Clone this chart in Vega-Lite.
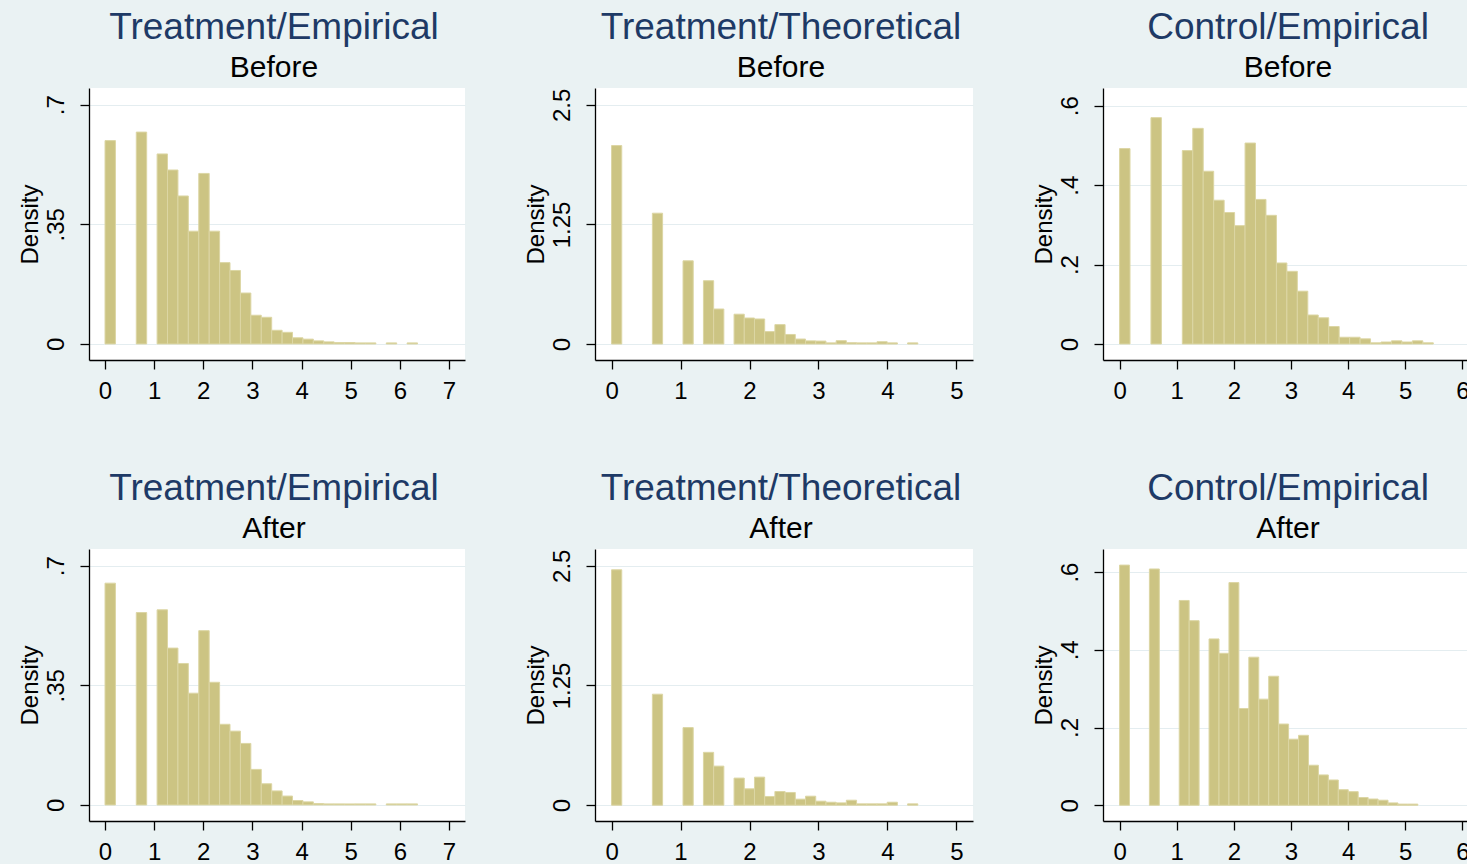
{
  "$schema": "https://vega.github.io/schema/vega-lite/v6.json",
  "usermeta": {"embedOptions": {"actions": false}},
  "background": "#eaf2f3",
  "padding": {"left": 18, "top": 9, "right": 0, "bottom": 0},
  "config": {
    "font": "Liberation Sans",
    "view": {"fill": "white", "stroke": null},
    "axis": {
      "domainColor": "#000000", "domainWidth": 1.3,
      "tickColor": "#000000", "tickSize": 9, "tickWidth": 1.3,
      "labelFont": "Liberation Sans", "labelFontSize": 24, "labelColor": "#000000",
      "labelOverlap": false, "labelFlush": false,
      "titleFont": "Liberation Sans", "titleFontSize": 24, "titleFontWeight": "normal", "titleColor": "#000000",
      "gridColor": "#e4edf0", "gridWidth": 1.2
    },
    "axisX": {"grid": false, "labelPadding": 10},
    "axisY": {"grid": true, "labelAngle": -90, "labelAlign": "center", "labelBaseline": "bottom", "labelPadding": 12, "titlePadding": 2,
      "labelExpr": "datum.value > 0 && datum.value < 1 ? substring(toString(datum.value), 1) : toString(datum.value)"},
    "title": {
      "font": "Liberation Sans", "fontSize": 37, "fontWeight": "normal", "color": "#1e3a66",
      "subtitleFont": "Liberation Sans", "subtitleFontSize": 30, "subtitleColor": "#000000",
      "subtitlePadding": 6, "anchor": "middle", "frame": "group", "offset": 4, "dx": -3
    }
  },
  "datasets": {
    "bars": [
      {"p":"TE_B","x0":0,"x1":0.212,"d":0.595},
      {"p":"TE_B","x0":0.636,"x1":0.848,"d":0.620},
      {"p":"TE_B","x0":1.06,"x1":1.272,"d":0.556},
      {"p":"TE_B","x0":1.272,"x1":1.484,"d":0.509},
      {"p":"TE_B","x0":1.484,"x1":1.696,"d":0.433},
      {"p":"TE_B","x0":1.696,"x1":1.908,"d":0.330},
      {"p":"TE_B","x0":1.908,"x1":2.12,"d":0.499},
      {"p":"TE_B","x0":2.12,"x1":2.332,"d":0.330},
      {"p":"TE_B","x0":2.332,"x1":2.544,"d":0.238},
      {"p":"TE_B","x0":2.544,"x1":2.756,"d":0.215},
      {"p":"TE_B","x0":2.756,"x1":2.968,"d":0.149},
      {"p":"TE_B","x0":2.968,"x1":3.18,"d":0.084},
      {"p":"TE_B","x0":3.18,"x1":3.392,"d":0.078},
      {"p":"TE_B","x0":3.392,"x1":3.604,"d":0.040},
      {"p":"TE_B","x0":3.604,"x1":3.816,"d":0.034},
      {"p":"TE_B","x0":3.816,"x1":4.028,"d":0.018},
      {"p":"TE_B","x0":4.028,"x1":4.24,"d":0.014},
      {"p":"TE_B","x0":4.24,"x1":4.452,"d":0.009},
      {"p":"TE_B","x0":4.452,"x1":4.664,"d":0.006},
      {"p":"TE_B","x0":4.664,"x1":4.876,"d":0.004},
      {"p":"TE_B","x0":4.876,"x1":5.088,"d":0.004},
      {"p":"TE_B","x0":5.088,"x1":5.3,"d":0.003},
      {"p":"TE_B","x0":5.3,"x1":5.512,"d":0.003},
      {"p":"TE_B","x0":5.724,"x1":5.936,"d":0.003},
      {"p":"TE_B","x0":6.148,"x1":6.36,"d":0.003},

      {"p":"TT_B","x0":0,"x1":0.148,"d":2.075},
      {"p":"TT_B","x0":0.592,"x1":0.74,"d":1.368},
      {"p":"TT_B","x0":1.036,"x1":1.184,"d":0.870},
      {"p":"TT_B","x0":1.332,"x1":1.48,"d":0.662},
      {"p":"TT_B","x0":1.48,"x1":1.628,"d":0.366},
      {"p":"TT_B","x0":1.776,"x1":1.924,"d":0.312},
      {"p":"TT_B","x0":1.924,"x1":2.072,"d":0.272},
      {"p":"TT_B","x0":2.072,"x1":2.22,"d":0.262},
      {"p":"TT_B","x0":2.22,"x1":2.368,"d":0.130},
      {"p":"TT_B","x0":2.368,"x1":2.516,"d":0.203},
      {"p":"TT_B","x0":2.516,"x1":2.664,"d":0.100},
      {"p":"TT_B","x0":2.664,"x1":2.812,"d":0.052},
      {"p":"TT_B","x0":2.812,"x1":2.96,"d":0.033},
      {"p":"TT_B","x0":2.96,"x1":3.108,"d":0.031},
      {"p":"TT_B","x0":3.108,"x1":3.256,"d":0.012},
      {"p":"TT_B","x0":3.256,"x1":3.404,"d":0.035},
      {"p":"TT_B","x0":3.404,"x1":3.552,"d":0.014},
      {"p":"TT_B","x0":3.552,"x1":3.7,"d":0.012},
      {"p":"TT_B","x0":3.7,"x1":3.848,"d":0.012},
      {"p":"TT_B","x0":3.848,"x1":3.996,"d":0.024},
      {"p":"TT_B","x0":3.996,"x1":4.144,"d":0.012},
      {"p":"TT_B","x0":4.292,"x1":4.44,"d":0.012},

      {"p":"CE_B","x0":0,"x1":0.183,"d":0.492},
      {"p":"CE_B","x0":0.549,"x1":0.732,"d":0.570},
      {"p":"CE_B","x0":1.098,"x1":1.281,"d":0.487},
      {"p":"CE_B","x0":1.281,"x1":1.464,"d":0.543},
      {"p":"CE_B","x0":1.464,"x1":1.647,"d":0.435},
      {"p":"CE_B","x0":1.647,"x1":1.83,"d":0.362},
      {"p":"CE_B","x0":1.83,"x1":2.013,"d":0.331},
      {"p":"CE_B","x0":2.013,"x1":2.196,"d":0.298},
      {"p":"CE_B","x0":2.196,"x1":2.379,"d":0.506},
      {"p":"CE_B","x0":2.379,"x1":2.562,"d":0.364},
      {"p":"CE_B","x0":2.562,"x1":2.745,"d":0.324},
      {"p":"CE_B","x0":2.745,"x1":2.928,"d":0.204},
      {"p":"CE_B","x0":2.928,"x1":3.111,"d":0.183},
      {"p":"CE_B","x0":3.111,"x1":3.294,"d":0.133},
      {"p":"CE_B","x0":3.294,"x1":3.477,"d":0.073},
      {"p":"CE_B","x0":3.477,"x1":3.66,"d":0.066},
      {"p":"CE_B","x0":3.66,"x1":3.843,"d":0.044},
      {"p":"CE_B","x0":3.843,"x1":4.026,"d":0.017},
      {"p":"CE_B","x0":4.026,"x1":4.209,"d":0.017},
      {"p":"CE_B","x0":4.209,"x1":4.392,"d":0.013},
      {"p":"CE_B","x0":4.392,"x1":4.575,"d":0.003},
      {"p":"CE_B","x0":4.575,"x1":4.758,"d":0.005},
      {"p":"CE_B","x0":4.758,"x1":4.941,"d":0.008},
      {"p":"CE_B","x0":4.941,"x1":5.124,"d":0.005},
      {"p":"CE_B","x0":5.124,"x1":5.307,"d":0.008},
      {"p":"CE_B","x0":5.307,"x1":5.49,"d":0.003},

      {"p":"TE_A","x0":0,"x1":0.212,"d":0.649},
      {"p":"TE_A","x0":0.636,"x1":0.848,"d":0.563},
      {"p":"TE_A","x0":1.06,"x1":1.272,"d":0.571},
      {"p":"TE_A","x0":1.272,"x1":1.484,"d":0.459},
      {"p":"TE_A","x0":1.484,"x1":1.696,"d":0.414},
      {"p":"TE_A","x0":1.696,"x1":1.908,"d":0.327},
      {"p":"TE_A","x0":1.908,"x1":2.12,"d":0.510},
      {"p":"TE_A","x0":2.12,"x1":2.332,"d":0.359},
      {"p":"TE_A","x0":2.332,"x1":2.544,"d":0.236},
      {"p":"TE_A","x0":2.544,"x1":2.756,"d":0.216},
      {"p":"TE_A","x0":2.756,"x1":2.968,"d":0.180},
      {"p":"TE_A","x0":2.968,"x1":3.18,"d":0.104},
      {"p":"TE_A","x0":3.18,"x1":3.392,"d":0.062},
      {"p":"TE_A","x0":3.392,"x1":3.604,"d":0.041},
      {"p":"TE_A","x0":3.604,"x1":3.816,"d":0.026},
      {"p":"TE_A","x0":3.816,"x1":4.028,"d":0.013},
      {"p":"TE_A","x0":4.028,"x1":4.24,"d":0.009},
      {"p":"TE_A","x0":4.24,"x1":4.452,"d":0.004},
      {"p":"TE_A","x0":4.452,"x1":4.664,"d":0.003},
      {"p":"TE_A","x0":4.664,"x1":4.876,"d":0.003},
      {"p":"TE_A","x0":4.876,"x1":5.088,"d":0.003},
      {"p":"TE_A","x0":5.088,"x1":5.3,"d":0.003},
      {"p":"TE_A","x0":5.3,"x1":5.512,"d":0.003},
      {"p":"TE_A","x0":5.724,"x1":5.936,"d":0.003},
      {"p":"TE_A","x0":5.936,"x1":6.148,"d":0.003},
      {"p":"TE_A","x0":6.148,"x1":6.36,"d":0.003},

      {"p":"TT_A","x0":0,"x1":0.148,"d":2.458},
      {"p":"TT_A","x0":0.592,"x1":0.74,"d":1.159},
      {"p":"TT_A","x0":1.036,"x1":1.184,"d":0.810},
      {"p":"TT_A","x0":1.332,"x1":1.48,"d":0.552},
      {"p":"TT_A","x0":1.48,"x1":1.628,"d":0.408},
      {"p":"TT_A","x0":1.776,"x1":1.924,"d":0.283},
      {"p":"TT_A","x0":1.924,"x1":2.072,"d":0.171},
      {"p":"TT_A","x0":2.072,"x1":2.22,"d":0.293},
      {"p":"TT_A","x0":2.22,"x1":2.368,"d":0.091},
      {"p":"TT_A","x0":2.368,"x1":2.516,"d":0.143},
      {"p":"TT_A","x0":2.516,"x1":2.664,"d":0.133},
      {"p":"TT_A","x0":2.664,"x1":2.812,"d":0.063},
      {"p":"TT_A","x0":2.812,"x1":2.96,"d":0.094},
      {"p":"TT_A","x0":2.96,"x1":3.108,"d":0.042},
      {"p":"TT_A","x0":3.108,"x1":3.256,"d":0.031},
      {"p":"TT_A","x0":3.256,"x1":3.404,"d":0.024},
      {"p":"TT_A","x0":3.404,"x1":3.552,"d":0.052},
      {"p":"TT_A","x0":3.552,"x1":3.7,"d":0.014},
      {"p":"TT_A","x0":3.7,"x1":3.848,"d":0.014},
      {"p":"TT_A","x0":3.848,"x1":3.996,"d":0.014},
      {"p":"TT_A","x0":3.996,"x1":4.144,"d":0.031},
      {"p":"TT_A","x0":4.292,"x1":4.44,"d":0.014},

      {"p":"CE_A","x0":0,"x1":0.174,"d":0.618},
      {"p":"CE_A","x0":0.522,"x1":0.696,"d":0.608},
      {"p":"CE_A","x0":1.044,"x1":1.218,"d":0.527},
      {"p":"CE_A","x0":1.218,"x1":1.392,"d":0.475},
      {"p":"CE_A","x0":1.566,"x1":1.74,"d":0.428},
      {"p":"CE_A","x0":1.74,"x1":1.914,"d":0.391},
      {"p":"CE_A","x0":1.914,"x1":2.088,"d":0.573},
      {"p":"CE_A","x0":2.088,"x1":2.262,"d":0.249},
      {"p":"CE_A","x0":2.262,"x1":2.436,"d":0.381},
      {"p":"CE_A","x0":2.436,"x1":2.61,"d":0.273},
      {"p":"CE_A","x0":2.61,"x1":2.784,"d":0.332},
      {"p":"CE_A","x0":2.784,"x1":2.958,"d":0.209},
      {"p":"CE_A","x0":2.958,"x1":3.132,"d":0.170},
      {"p":"CE_A","x0":3.132,"x1":3.306,"d":0.180},
      {"p":"CE_A","x0":3.306,"x1":3.48,"d":0.103},
      {"p":"CE_A","x0":3.48,"x1":3.654,"d":0.078},
      {"p":"CE_A","x0":3.654,"x1":3.828,"d":0.065},
      {"p":"CE_A","x0":3.828,"x1":4.002,"d":0.040},
      {"p":"CE_A","x0":4.002,"x1":4.176,"d":0.035},
      {"p":"CE_A","x0":4.176,"x1":4.35,"d":0.020},
      {"p":"CE_A","x0":4.35,"x1":4.524,"d":0.016},
      {"p":"CE_A","x0":4.524,"x1":4.698,"d":0.013},
      {"p":"CE_A","x0":4.698,"x1":4.872,"d":0.006},
      {"p":"CE_A","x0":4.872,"x1":5.046,"d":0.003},
      {"p":"CE_A","x0":5.046,"x1":5.22,"d":0.003}
    ]
  },
  "columns": 3,
  "bounds": "flush",
  "align": "none",
  "spacing": {"row": 189, "column": 130},
  "concat": [
    {
      "title": {"text": "Treatment/Empirical", "subtitle": "\u2004Before"},
      "width": 376, "height": 272,
      "data": {"name": "bars"},
      "transform": [{"filter": "datum.p == 'TE_B'"}],
      "mark": {"type": "rect", "fill": "#ccc483", "stroke": "#dcd6a4", "strokeWidth": 1},
      "encoding": {
        "x": {"field": "x0", "type": "quantitative", "scale": {"domain": [-0.326, 7.326], "nice": false, "zero": false}, "axis": {"values": [0,1,2,3,4,5,6,7], "title": null}},
        "x2": {"field": "x1"},
        "y": {"field": "d", "type": "quantitative", "scale": {"domain": [-0.047, 0.749], "nice": false, "zero": false}, "axis": {"values": [0, 0.35, 0.7], "title": "Density"}},
        "y2": {"datum": 0}
      }
    },
    {
      "title": {"text": "Treatment/Theoretical", "subtitle": "\u2004Before"},
      "width": 378, "height": 272,
      "data": {"name": "bars"},
      "transform": [{"filter": "datum.p == 'TT_B'"}],
      "mark": {"type": "rect", "fill": "#ccc483", "stroke": "#dcd6a4", "strokeWidth": 1},
      "encoding": {
        "x": {"field": "x0", "type": "quantitative", "scale": {"domain": [-0.24, 5.24], "nice": false, "zero": false}, "axis": {"values": [0,1,2,3,4,5], "title": null}},
        "x2": {"field": "x1"},
        "y": {"field": "d", "type": "quantitative", "scale": {"domain": [-0.167, 2.677], "nice": false, "zero": false}, "axis": {"values": [0, 1.25, 2.5], "title": "Density"}},
        "y2": {"datum": 0}
      }
    },
    {
      "title": {"text": "Control/Empirical", "subtitle": "\u2004Before"},
      "width": 376, "height": 272,
      "data": {"name": "bars"},
      "transform": [{"filter": "datum.p == 'CE_B'"}],
      "mark": {"type": "rect", "fill": "#ccc483", "stroke": "#dcd6a4", "strokeWidth": 1},
      "encoding": {
        "x": {"field": "x0", "type": "quantitative", "scale": {"domain": [-0.29, 6.29], "nice": false, "zero": false}, "axis": {"values": [0,1,2,3,4,5,6], "title": null}},
        "x2": {"field": "x1"},
        "y": {"field": "d", "type": "quantitative", "scale": {"domain": [-0.0403, 0.6446], "nice": false, "zero": false}, "axis": {"values": [0, 0.2, 0.4, 0.6], "title": "Density"}},
        "y2": {"datum": 0}
      }
    },
    {
      "title": {"text": "Treatment/Empirical", "subtitle": "\u2004After"},
      "width": 376, "height": 272,
      "data": {"name": "bars"},
      "transform": [{"filter": "datum.p == 'TE_A'"}],
      "mark": {"type": "rect", "fill": "#ccc483", "stroke": "#dcd6a4", "strokeWidth": 1},
      "encoding": {
        "x": {"field": "x0", "type": "quantitative", "scale": {"domain": [-0.326, 7.326], "nice": false, "zero": false}, "axis": {"values": [0,1,2,3,4,5,6,7], "title": null}},
        "x2": {"field": "x1"},
        "y": {"field": "d", "type": "quantitative", "scale": {"domain": [-0.047, 0.749], "nice": false, "zero": false}, "axis": {"values": [0, 0.35, 0.7], "title": "Density"}},
        "y2": {"datum": 0}
      }
    },
    {
      "title": {"text": "Treatment/Theoretical", "subtitle": "\u2004After"},
      "width": 378, "height": 272,
      "data": {"name": "bars"},
      "transform": [{"filter": "datum.p == 'TT_A'"}],
      "mark": {"type": "rect", "fill": "#ccc483", "stroke": "#dcd6a4", "strokeWidth": 1},
      "encoding": {
        "x": {"field": "x0", "type": "quantitative", "scale": {"domain": [-0.24, 5.24], "nice": false, "zero": false}, "axis": {"values": [0,1,2,3,4,5], "title": null}},
        "x2": {"field": "x1"},
        "y": {"field": "d", "type": "quantitative", "scale": {"domain": [-0.165, 2.675], "nice": false, "zero": false}, "axis": {"values": [0, 1.25, 2.5], "title": "Density"}},
        "y2": {"datum": 0}
      }
    },
    {
      "title": {"text": "Control/Empirical", "subtitle": "\u2004After"},
      "width": 376, "height": 272,
      "data": {"name": "bars"},
      "transform": [{"filter": "datum.p == 'CE_A'"}],
      "mark": {"type": "rect", "fill": "#ccc483", "stroke": "#dcd6a4", "strokeWidth": 1},
      "encoding": {
        "x": {"field": "x0", "type": "quantitative", "scale": {"domain": [-0.29, 6.29], "nice": false, "zero": false}, "axis": {"values": [0,1,2,3,4,5,6], "title": null}},
        "x2": {"field": "x1"},
        "y": {"field": "d", "type": "quantitative", "scale": {"domain": [-0.0405, 0.6594], "nice": false, "zero": false}, "axis": {"values": [0, 0.2, 0.4, 0.6], "title": "Density"}},
        "y2": {"datum": 0}
      }
    }
  ]
}
